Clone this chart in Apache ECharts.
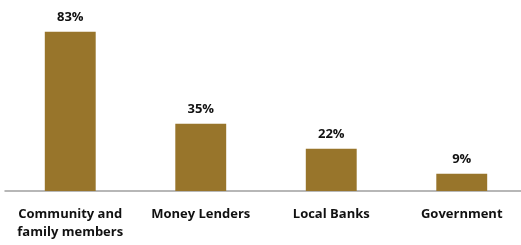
<!DOCTYPE html>
<html>
<head>
<meta charset="utf-8">
<script src="https://cdn.jsdelivr.net/npm/echarts@6/dist/echarts.min.js"></script>
<style>
  html, body { margin: 0; padding: 0; background: #fff; }
  #chart { width: 521px; height: 245px; }
</style>
</head>
<body>
<div id="chart"></div>
<script>
const categories = ['Community and\nfamily members', 'Money Lenders', 'Local Banks', 'Government']
const shares = [83, 35, 22, 9]

const chart = echarts.init(document.getElementById('chart'))

const option = {
  animation: false,
  grid: { left: 5, right: -6, top: -1, bottom: 54, outerBoundsMode: 'none' },
  xAxis: {
    type: 'category',
    data: categories,
    axisTick: { show: false },
    axisLine: { lineStyle: { color: '#a0a0a0', width: 1.5 } },
    axisLabel: {
      color: '#111',
      fontFamily: 'Open Sans',
      fontWeight: 'bold',
      fontSize: 13,
      lineHeight: 18,
      margin: 14,
      interval: 0
    }
  },
  yAxis: {
    type: 'value',
    min: 0,
    max: 100,
    show: false
  },
  series: [
    {
      type: 'bar',
      data: shares,
      barWidth: '39%',
      itemStyle: { color: '#98752b' },
      label: {
        show: true,
        position: 'top',
        distance: 8,
        formatter: '{c}%',
        color: '#111',
        fontFamily: 'Open Sans',
        fontWeight: 'bold',
        fontSize: 13
      }
    }
  ]
}

chart.setOption(option)
</script>
</body>
</html>
